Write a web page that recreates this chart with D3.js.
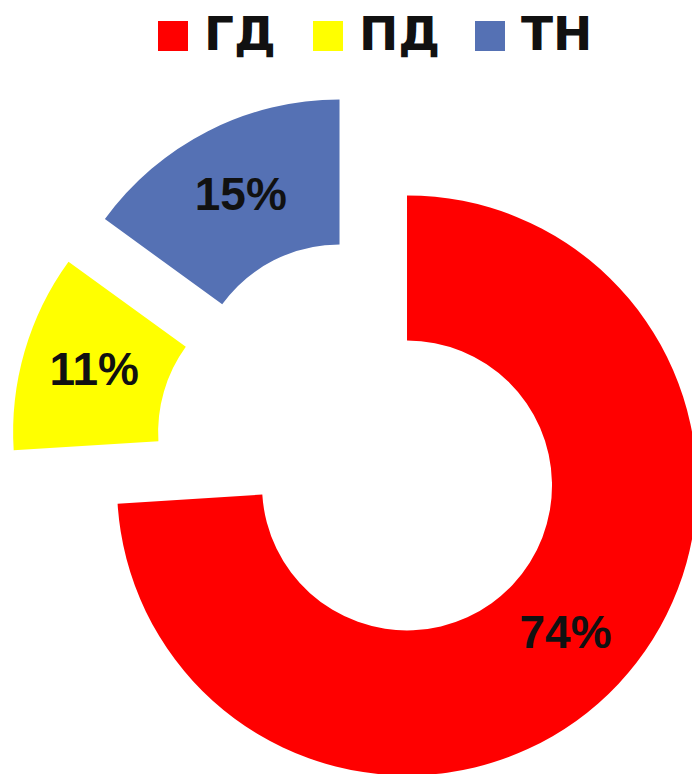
<!DOCTYPE html>
<html>
<head>
<meta charset="utf-8">
<script src="https://cdn.jsdelivr.net/npm/d3@7"></script>
<style>
  html, body { margin: 0; padding: 0; background: #fff; }
  svg { display: block; }
  text { font-weight: bold; fill: #111; }
  .pct { font-family: "Liberation Sans", Arial, sans-serif; }
  .legend text { font-family: "DejaVu Sans", sans-serif; }
</style>
</head>
<body>
<svg id="chart" width="692" height="774"></svg>
<script>
// Shares by category, in percent
const categories = ["ГД", "ПД", "ТН"];
const shares = [74, 11, 15];
const colors = ["#FF0000", "#FFFF00", "#5571B4"];
// How far each slice is pulled out of the ring
const explode = [49, 71, 70];

const cx = 371.3, cy = 451.9;
const outerR = 290, innerR = 145;

const svg = d3.select("#chart");

const pie = d3.pie().sort(null).value(d => d.value).startAngle(0).endAngle(2 * Math.PI);
const arc = d3.arc().innerRadius(innerR).outerRadius(outerR);

const data = categories.map((c, i) => ({ name: c, value: shares[i], color: colors[i], explode: explode[i] }));
const arcs = pie(data);

const g = svg.append("g").attr("transform", `translate(${cx},${cy})`);

const slice = g.selectAll("g.slice")
  .data(arcs)
  .join("g")
  .attr("class", "slice")
  .attr("transform", d => {
    const mid = (d.startAngle + d.endAngle) / 2;
    const dx = d.data.explode * Math.sin(mid);
    const dy = -d.data.explode * Math.cos(mid);
    return `translate(${dx},${dy})`;
  });

slice.append("path")
  .attr("d", arc)
  .attr("fill", d => d.data.color);

slice.append("text")
  .attr("class", "pct")
  .attr("transform", d => `translate(${arc.centroid(d)})`)
  .attr("text-anchor", "middle")
  .attr("dy", "0.3em")
  .style("font-size", "46px")
  .text(d => `${d.data.value}%`);

// Legend across the top
const legend = svg.append("g").attr("class", "legend");
const legendX = [158, 313, 475];
const item = legend.selectAll("g.item")
  .data(data)
  .join("g")
  .attr("class", "item")
  .attr("transform", (d, i) => `translate(${legendX[i]},0)`);

item.append("rect")
  .attr("x", 0)
  .attr("y", 21)
  .attr("width", 30)
  .attr("height", 30)
  .attr("fill", d => d.color);

item.append("text")
  .attr("x", 46)
  .attr("y", 50)
  .style("font-size", "47px")
  .text(d => d.name);
</script>
</body>
</html>
